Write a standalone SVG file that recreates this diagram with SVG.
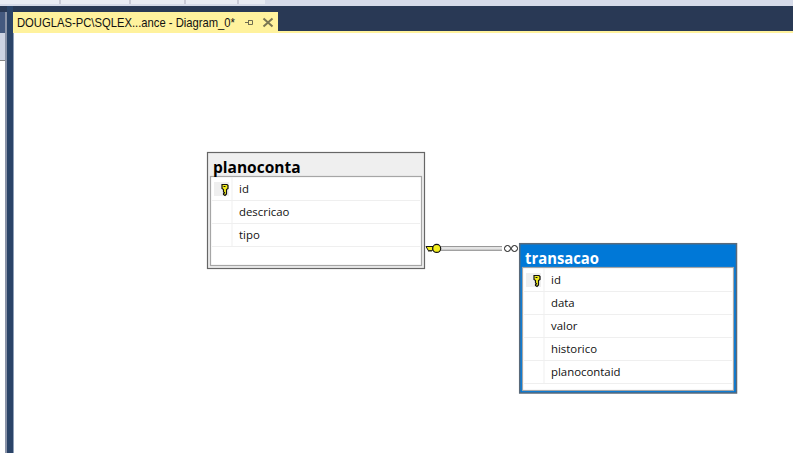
<svg xmlns="http://www.w3.org/2000/svg" width="793" height="453" viewBox="0 0 793 453">
<defs>
<style>
.t{font-family:"Liberation Sans","Open Sans",Arial,sans-serif}
.title{font-size:15.500px;font-weight:bold;font-family:"Open Sans","Liberation Sans",sans-serif}
.col{font-size:11.400px;fill:#111;font-family:"Open Sans","Liberation Sans",sans-serif}
.sep{stroke:#efefef;stroke-width:1;fill:none}
</style>
<g id="key">
<path d="M-2.500,-4.500h5l1,1v3l-1.500,1v4.500l-1.500,1.500l-1.500,-1v-1l1,-.5v-.5l-1,-.5v-2.500l-1.500,-1v-3z" fill="#f3ee1c" stroke="#111" stroke-width="1.200"/>
<path d="M-1,-2.500h2" stroke="#111" stroke-width="1"/>
</g>
</defs>
<rect width="793" height="453" fill="#fff"/>
<g id="chrome">
<rect width="793" height="6" fill="#d6dbe9"/>
<rect x="0" y="0" width="265" height="4" fill="#e9ecf4"/>
<path d="M60,0v4M130,0v4M185,0v4M238,0v4" stroke="#aab" stroke-width="1"/>
<rect y="6" width="793" height="25" fill="#293955"/>
<rect y="31" width="793" height="2" fill="#fff29d"/>
<rect x="0" y="12" width="6" height="21" fill="#44597f"/>
<rect x="0" y="33" width="6" height="27" fill="#cdd3e3"/>
<rect x="0" y="60" width="5" height="1" fill="#888"/>
<rect x="5" y="12" width="2" height="441" fill="#8a93a8"/>
<rect x="7" y="6" width="6" height="447" fill="#2b4468"/>
<rect x="13" y="33" width="1" height="420" fill="#8fa0b8"/>
</g>
<g id="tab">
<rect x="13" y="12" width="265" height="21" fill="#fff29d"/>
<text class="t" x="17" y="27" font-size="12.400px" fill="#111" textLength="218" lengthAdjust="spacingAndGlyphs">DOUGLAS-PC\SQLEX...ance - Diagram_0*</text>
<path d="M245,22.500h3.500M248.500,20v5M248.500,20.500h4v4h-4" stroke="#6f6c50" stroke-width="1" fill="none"/>
<path d="M263.500,18.500l9,8M272.500,18.500l-9,8" stroke="#7a7652" stroke-width="2" fill="none"/>
</g>
<g id="connectors">
<path d="M441,246.500h61" stroke="#999" stroke-width="1" fill="none"/>
<path d="M441,248.300h61" stroke="#e4e4e4" stroke-width="2.600" fill="none"/>
<path d="M441,250.200h61" stroke="#777" stroke-width="1" fill="none"/>
<circle cx="507.500" cy="248.500" r="3" fill="#fff" stroke="#111" stroke-width="1"/>
<circle cx="514.500" cy="248.500" r="3" fill="#fff" stroke="#111" stroke-width="1"/>
<path d="M426,246.500h7v3.500h-1l-1,1.500l-1,-1.500l-1,1.500l-1,-1.500z" fill="#f3ee1c" stroke="#111" stroke-width="1"/>
<circle cx="436.700" cy="248.400" r="4" fill="#f3ee1c" stroke="#111" stroke-width="1.200"/>
</g>
<g id="planoconta">
<rect x="207.500" y="152.500" width="217" height="116" fill="#efefef" stroke="#666" stroke-width="1.200"/>
<rect x="210.500" y="176.500" width="211" height="89" fill="#fff" stroke="#a6a6a6" stroke-width="1.200"/>
<text class="title" x="213" y="173" fill="#000">planoconta</text>
<rect x="214" y="182" width="15" height="14" fill="#efefef"/>
<use href="#key" x="224.500" y="189"/>
<path class="sep" d="M232,177v69M212,200.500h208M212,223.500h208M212,246.500h208"/>
<text class="col" x="239" y="193">id</text>
<text class="col" x="239" y="216">descricao</text>
<text class="col" x="239" y="239">tipo</text>
</g>
<g id="transacao">
<rect x="519.700" y="243.700" width="216.800" height="149.300" fill="#0078d7" stroke="#5a6a7a" stroke-width="1.500"/>
<rect x="522.500" y="267.500" width="211" height="123" fill="#fff" stroke="#a6a6a6" stroke-width="1.200"/>
<text class="title" x="525" y="264" fill="#fff" textLength="74" lengthAdjust="spacingAndGlyphs">transacao</text>
<rect x="526" y="273" width="15" height="14" fill="#efefef"/>
<use href="#key" x="536.500" y="280"/>
<path class="sep" d="M544,268v115M524,291.500h208M524,314.500h208M524,337.500h208M524,360.500h208M524,383.500h208"/>
<text class="col" x="551" y="284">id</text>
<text class="col" x="551" y="307">data</text>
<text class="col" x="551" y="330">valor</text>
<text class="col" x="551" y="353">historico</text>
<text class="col" x="551" y="376">planocontaid</text>
</g>
</svg>
